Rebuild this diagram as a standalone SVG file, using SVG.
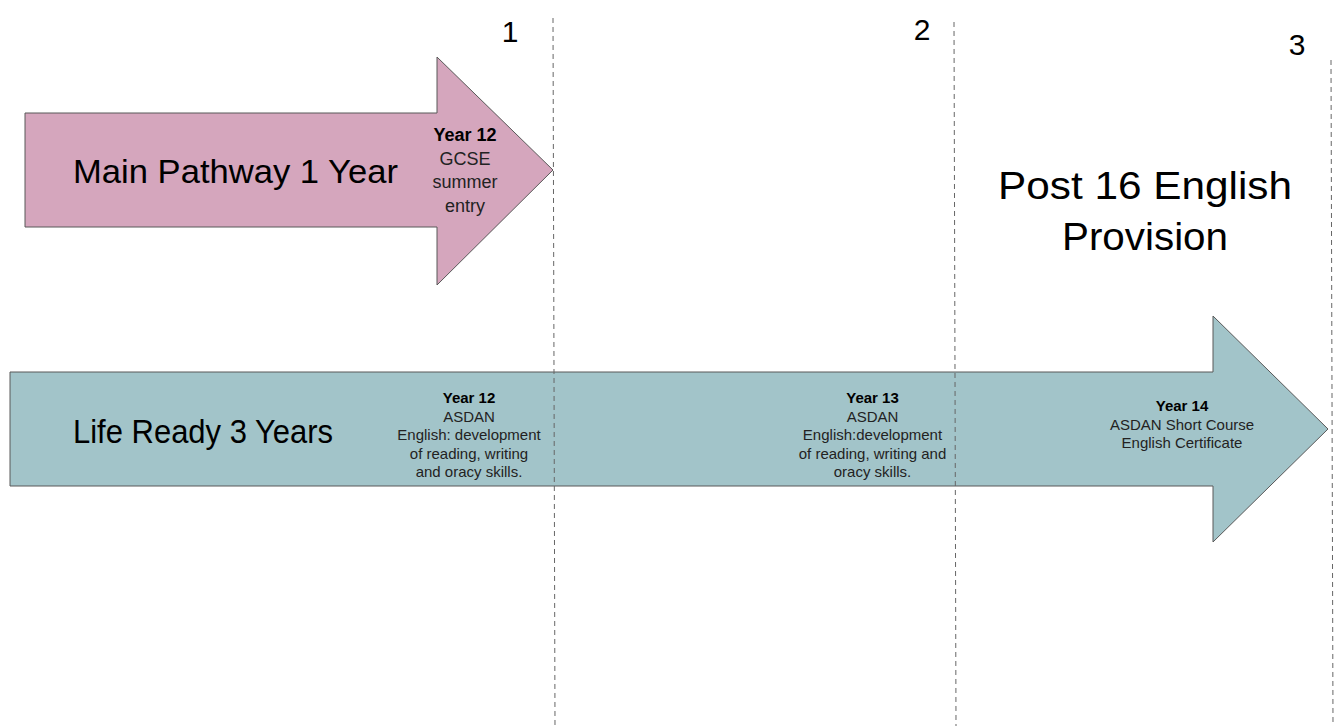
<svg xmlns="http://www.w3.org/2000/svg" width="1343" height="726" viewBox="0 0 1343 726">
<style>
.arrow{stroke:#595959;stroke-width:1}
.big{font-family:"Liberation Sans",Arial,sans-serif;font-size:33px;fill:#000;text-anchor:middle}
.post{font-family:"Liberation Sans",Arial,sans-serif;font-size:39px;fill:#000;text-anchor:middle}
.num{font-family:"Liberation Sans",Arial,sans-serif;font-size:30px;fill:#000;text-anchor:middle}
.sm{font-family:"Liberation Sans",Arial,sans-serif;font-size:15px;fill:#222;text-anchor:middle}
.sm18{font-family:"Liberation Sans",Arial,sans-serif;font-size:18px;fill:#222;text-anchor:middle}
.b{font-weight:bold;fill:#000}
.dash{stroke:#666;stroke-width:1;stroke-dasharray:5,4;fill:none}
</style>
<rect width="1343" height="726" fill="#fff"/>
<g id="main-pathway">
<polygon class="arrow" fill="#d5a6bd" points="25,113 437,113 437,57 553,170 437,285 437,227 25,227"/>
<text class="big" x="235.5" y="183" textLength="325" lengthAdjust="spacingAndGlyphs">Main Pathway 1 Year</text>
<text class="sm18" x="465" y="141"><tspan class="b">Year 12</tspan><tspan x="465" dy="23.5">GCSE</tspan><tspan x="465" dy="23.5">summer</tspan><tspan x="465" dy="23.5">entry</tspan></text>
</g>
<g id="life-ready">
<polygon class="arrow" fill="#a2c4c9" points="10,372 1213,372 1213,316 1328,429 1213,542 1213,486 10,486"/>
<text class="big" x="203" y="443" textLength="260" lengthAdjust="spacingAndGlyphs">Life Ready 3 Years</text>
<text class="sm" x="469" y="403"><tspan class="b">Year 12</tspan><tspan x="469" dy="18.5">ASDAN</tspan><tspan x="469" dy="18.5">English: development</tspan><tspan x="469" dy="18.5">of reading, writing</tspan><tspan x="469" dy="18.5">and oracy skills.</tspan></text>
<text class="sm" x="872.5" y="403"><tspan class="b">Year 13</tspan><tspan x="872.5" dy="18.5">ASDAN</tspan><tspan x="872.5" dy="18.5">English:development</tspan><tspan x="872.5" dy="18.5">of reading, writing and</tspan><tspan x="872.5" dy="18.5">oracy skills.</tspan></text>
<text class="sm" x="1182" y="411"><tspan class="b">Year 14</tspan><tspan x="1182" dy="18.5">ASDAN Short Course</tspan><tspan x="1182" dy="18.5">English Certificate</tspan></text>
</g>
<g id="title">
<text class="post" x="1145" y="199" textLength="294" lengthAdjust="spacingAndGlyphs">Post 16 English</text>
<text class="post" x="1145" y="250" textLength="166" lengthAdjust="spacingAndGlyphs">Provision</text>
</g>
<g id="connectors">
<line class="dash" x1="553" y1="18" x2="555" y2="726"/>
<line class="dash" x1="954" y1="22" x2="956" y2="726"/>
<line class="dash" x1="1331" y1="60" x2="1333" y2="726"/>
</g>
<g id="markers">
<text class="num" x="510" y="42">1</text>
<text class="num" x="922" y="40">2</text>
<text class="num" x="1297" y="55">3</text>
</g>
</svg>
